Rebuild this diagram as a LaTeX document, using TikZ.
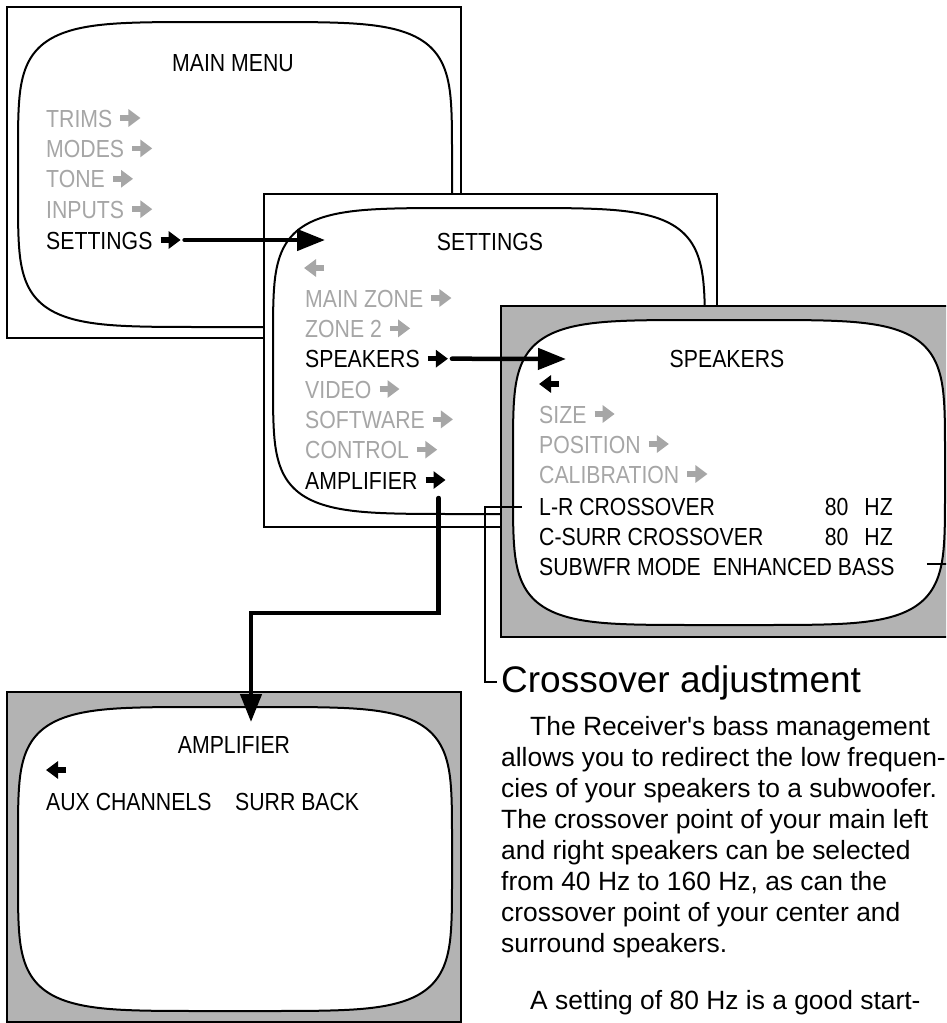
\documentclass[tikz,border=0pt]{standalone}
\usepackage{fontspec}
\setmainfont{Liberation Sans}
\newfontfamily\osdfont[FakeStretch=0.86]{Liberation Sans}
\usetikzlibrary{arrows.meta, calc, positioning}

\definecolor{bezel}{HTML}{B3B3B3}
\definecolor{dimtext}{HTML}{A6A6A6}

% rounded TV screen: centre x, centre y, half width, half height
\newcommand{\tvscreen}[4]{%
  \draw[line width=2pt, fill=white] plot[domain=1:359, samples=180]
    ({#1+#3*cos(\x)*pow(abs(cos(\x)),-0.6)},
     {#2+#4*sin(\x)*pow(abs(sin(\x)),-0.6)}) -- cycle;
}

\begin{document}
\begin{tikzpicture}[x=1pt, y=-1pt,
    panel/.style={draw, line width=2pt, inner sep=0pt, minimum width=454pt, minimum height=331pt},
    osd/.style={font=\osdfont\fontsize{24.7}{30}\selectfont, inner sep=0pt, anchor=base west},
    osdtitle/.style={osd, anchor=base},
    dim/.style={osd, text=dimtext},
    go/.style={line width=5.5pt, -{Triangle[length=12pt, width=17pt]}},
    link/.style={line width=4.5pt, line cap=round, -{Triangle[length=28pt, width=21pt]}},
    pointer/.style={line width=2pt},
    body/.style={font=\fontsize{26.4}{31}\selectfont, inner sep=0pt, anchor=base west}]

  \useasboundingbox (0,0) rectangle (946,1023);
  \clip (0,0) rectangle (946,1023);

  % Main menu
  \node[panel, fill=white] (mainBox) at (234,172.5) {};
  \tvscreen{235}{174.5}{217}{152.5}
  \node[osdtitle] (mainTitle) at (233,71) {MAIN MENU};
  \foreach \nm/\lbl [count=\i] in {trims/TRIMS, modes/MODES, tone/TONE, inputs/INPUTS} {
    \node[dim] (\nm) at (46,96.6+30.4*\i) {\lbl};
    \draw[go, dimtext] ([xshift=8pt,yshift=9pt]\nm.base east) -- ++(20,0);
  }
  \node[osd] (settings) at (46,249) {SETTINGS};
  \draw[go] ([xshift=8pt,yshift=9pt]settings.base east) -- ++(20,0);

  % Settings menu
  \node[panel, fill=white, minimum width=453pt, minimum height=333pt] (setBox) at (490.5,360.5) {};
  \tvscreen{489}{361}{216}{153}
  \node[osdtitle] (setTitle) at (490,250) {SETTINGS};
  \draw[go, dimtext] (324,268) -- (304,268);
  \foreach \nm/\lbl/\col [count=\i] in {mainzone/MAIN ZONE/dimtext, zonetwo/ZONE 2/dimtext,
      speakers/SPEAKERS/black, video/VIDEO/dimtext, software/SOFTWARE/dimtext,
      control/CONTROL/dimtext, amplifier/AMPLIFIER/black} {
    \node[osd, text=\col] (\nm) at (305,276.7+30.33*\i) {\lbl};
    \draw[go, \col] ([xshift=8pt,yshift=9pt]\nm.base east) -- ++(20,0);
  }

  % Speakers menu
  \node[panel, fill=bezel] (spkBox) at (728,471.5) {};
  \tvscreen{729}{472.5}{216}{152.5}
  \node[osdtitle] (spkTitle) at (727,367) {SPEAKERS};
  \draw[go] (559,384) -- (539,384);
  \foreach \nm/\lbl [count=\i] in {size/SIZE, position/POSITION, calibration/CALIBRATION} {
    \node[dim] (\nm) at (539,393+30*\i) {\lbl};
    \draw[go, dimtext] ([xshift=8pt,yshift=9pt]\nm.base east) -- ++(20,0);
  }
  \node[osd] (lrCross) at (539,515) {L-R CROSSOVER};
  \node[osd, anchor=base east] (lrFreq) at (893,515) {80\hspace{16pt}HZ};
  \node[osd] (csCross) at (539,545) {C-SURR CROSSOVER};
  \node[osd, anchor=base east] (csFreq) at (893,545) {80\hspace{16pt}HZ};
  \node[osd] (subMode) at (539,575) {SUBWFR MODE\hspace{12pt}ENHANCED BASS};

  % Amplifier menu
  \node[panel, fill=bezel, minimum height=330pt] (ampBox) at (234,857) {};
  \tvscreen{235}{859}{217}{152}
  \node[osdtitle] (ampTitle) at (234,753) {AMPLIFIER};
  \draw[go] (66,770) -- (46,770);
  \node[osd] (auxCh) at (46,810) {AUX CHANNELS};
  \node[osd] (surrBack) at (235,810) {SURR BACK};

  % Links between menus
  \coordinate (setIn) at (325,240);
  \coordinate (spkIn) at (566,359);
  \coordinate (ampIn) at (251,722);
  \draw[link] ([xshift=32pt,yshift=9pt]settings.base east) -- (setIn);
  \draw[link] ([xshift=32pt,yshift=9pt]speakers.base east) -- (spkIn);
  \draw[link] ([xshift=21pt,yshift=-9pt]amplifier.base east) -- ++(0,115) -| (ampIn);

  % Crossover callout
  \node[font=\fontsize{37}{44}\selectfont, inner sep=0pt, anchor=base west] (xoverHead) at (501,692) {Crossover adjustment};
  \draw[pointer] ([xshift=-17pt,yshift=8pt]lrCross.base west) -- ++(-37,0) |- ([xshift=-4pt]xoverHead.west);
  \coordinate (subOut) at (960,564);
  \draw[pointer] ([xshift=32pt,yshift=11pt]subMode.base east) -- (subOut);

  % Body text
  \node[body] (paraA) at (530,735) {The Receiver\textquotesingle s bass management};
  \foreach \ln [count=\i] in {allows you to redirect the low frequen-, cies of your speakers to a subwoofer.,
      The crossover point of your main left, and right speakers can be selected,
      {from 40 Hz to 160 Hz, as can the}, crossover point of your center and, surround speakers.}
    \node[body] (paraA\i) at (501,735+31.1*\i) {\ln};
  \node[body] (paraB) at (530,1009) {A setting of 80 Hz is a good start-};
\end{tikzpicture}
\end{document}
